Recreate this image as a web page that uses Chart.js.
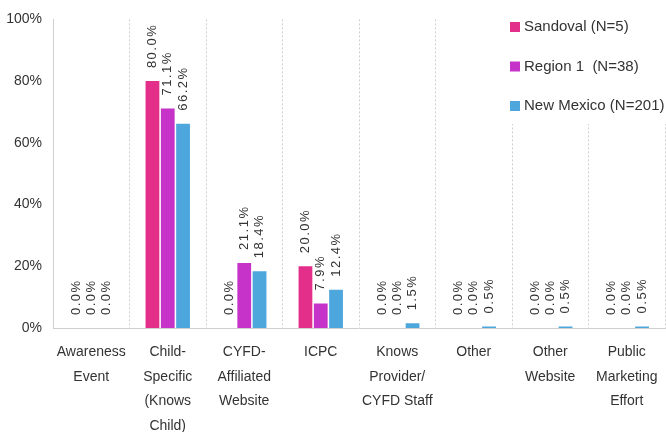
<!DOCTYPE html>
<html lang="en">
<head>
    <meta charset="UTF-8">
    <title>Referral Source Bar Chart</title>
    <script src="https://cdn.jsdelivr.net/npm/chart.js"></script>
    <style>
        html, body { margin: 0; padding: 0; background: #fff; }
        #wrap { width: 666px; height: 432px; position: relative; }
    </style>
</head>
<body>
<div id="wrap"><canvas id="myChart" width="666" height="432"></canvas></div>
<script>
    const categories = [
        ['Awareness', 'Event'],
        ['Child-', 'Specific', '(Knows', 'Child)'],
        ['CYFD-', 'Affiliated', 'Website'],
        ['ICPC'],
        ['Knows', 'Provider/', 'CYFD Staff'],
        ['Other'],
        ['Other', 'Website'],
        ['Public', 'Marketing', 'Effort']
    ];
    const seriesNames = ['Sandoval (N=5)', 'Region 1  (N=38)', 'New Mexico (N=201)'];
    const sandoval = [0.0, 80.0, 0.0, 20.0, 0.0, 0.0, 0.0, 0.0];
    const region1 = [0.0, 71.1, 21.1, 7.9, 0.0, 0.0, 0.0, 0.0];
    const newMexico = [0.0, 66.2, 18.4, 12.4, 1.5, 0.5, 0.5, 0.5];
    const seriesColors = ['#E32E8A', '#C633C9', '#4DA6DC'];
    const yTicks = [0, 20, 40, 60, 80, 100];

    const FONT = '"Liberation Sans", Arial, sans-serif';

    // rotated value labels above each bar
    const valueLabels = {
        id: 'valueLabels',
        afterDatasetsDraw(chart) {
            const ctx = chart.ctx;
            ctx.save();
            ctx.fillStyle = '#333';
            ctx.font = '13px ' + FONT;
            ctx.letterSpacing = '1.5px';
            ctx.textAlign = 'left';
            ctx.textBaseline = 'middle';
            chart.data.datasets.forEach((ds, i) => {
                chart.getDatasetMeta(i).data.forEach((bar, j) => {
                    ctx.save();
                    ctx.translate(bar.x, bar.y - 13);
                    ctx.rotate(-Math.PI / 2);
                    ctx.fillText(ds.data[j].toFixed(1) + '%', 0, 0);
                    ctx.restore();
                });
            });
            ctx.restore();
        }
    };

    // legend in the upper right corner of the plot
    const cornerLegend = {
        id: 'cornerLegend',
        afterDraw(chart) {
            const ctx = chart.ctx;
            ctx.save();
            ctx.fillStyle = '#fff';
            ctx.fillRect(503, 8, 163, 116);
            ctx.font = '15px ' + FONT;
            ctx.textBaseline = 'middle';
            ctx.textAlign = 'left';
            seriesNames.forEach((name, i) => {
                const y = 27 + i * 39.5;
                ctx.fillStyle = seriesColors[i];
                ctx.fillRect(510, y - 5, 10, 10);
                ctx.fillStyle = '#333';
                ctx.fillText(name, 524, y);
            });
            ctx.restore();
        }
    };

    const ctx = document.getElementById('myChart').getContext('2d');

    new Chart(ctx, {
        type: 'bar',
        data: {
            labels: categories,
            datasets: [sandoval, region1, newMexico].map((d, i) => ({
                label: seriesNames[i],
                data: d,
                backgroundColor: seriesColors[i],
                borderWidth: 0,
                categoryPercentage: 0.6,
                barPercentage: 0.9
            }))
        },
        options: {
            responsive: false,
            animation: false,
            layout: { padding: { top: 17, right: 1, left: 0, bottom: 0 } },
            plugins: {
                legend: { display: false },
                tooltip: { enabled: false }
            },
            scales: {
                x: {
                    grid: {
                        offset: true,
                        color: '#cfcfcf',
                        drawTicks: false
                    },
                    border: { color: '#cfcfcf', dash: [2, 2] },
                    ticks: {
                        color: '#333',
                        font: { family: FONT, size: 14, lineHeight: 1.75 },
                        maxRotation: 0,
                        autoSkip: false,
                        padding: 12
                    },
                    afterFit(scale) {
                        scale.height = 104;
                        scale.paddingLeft = 0;
                        scale.paddingRight = 0;
                    }
                },
                y: {
                    min: 0,
                    max: 100,
                    grid: { display: false, drawTicks: false },
                    border: { color: '#cfcfcf', dash: [2, 2] },
                    afterBuildTicks(scale) {
                        scale.ticks = yTicks.map(v => ({ value: v }));
                    },
                    ticks: {
                        color: '#333',
                        font: { family: FONT, size: 14 },
                        padding: 11,
                        callback: v => v + '%'
                    },
                    afterFit(scale) { scale.width = 53; }
                }
            }
        },
        plugins: [valueLabels, cornerLegend]
    });
</script>
</body>
</html>
